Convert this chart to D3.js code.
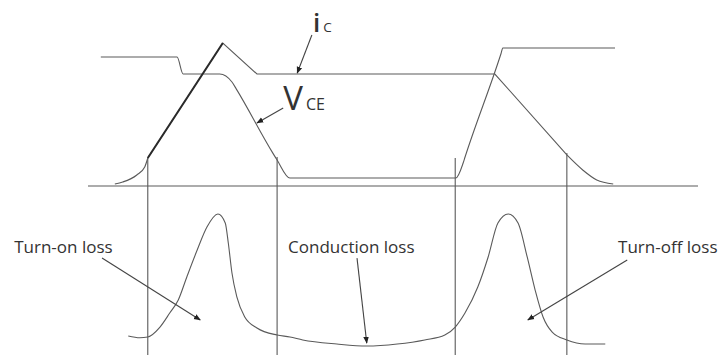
<!DOCTYPE html>
<html>
<head>
<meta charset="utf-8">
<script src="https://cdn.jsdelivr.net/npm/d3@7"></script>
<style>
  body { margin: 0; background: #fff; }
  text { font-family: "Open Sans", sans-serif; fill: #333; }
</style>
</head>
<body>
<div id="chart"></div>
<script>
// time runs 0..100 along the baseline, signals 0..100 in each panel
// [time, value]
var vce = [[2.1, 90.2], [14.6, 90.2], [15.6, 78.3], [21.6, 78.3], [23.6, 72.7],
           [24.3, 67.9], [30.3, 23.0], [31.0, 18.2], [33.1, 5.6], [60.3, 5.6],
           [61.5, 16.1], [61.8, 20.1], [67.7, 92.5], [68.0, 96.5], [86.4, 96.5]];
var icTurnOn = [[4.4, 1.4], [5.7, 2.8], [8.0, 7.7], [9.3, 13.3], [9.8, 19.6]];
var icMain = [[9.8, 19.6], [22.1, 100], [27.7, 78.3], [66.7, 78.3], [78.5, 21.7]];
var icTurnOff = [[78.5, 21.7], [81.1, 11.2], [83.4, 4.2], [86.1, 1.4]];

var lossOn = [[6.6, 10.3], [8.5, 9.0], [9.8, 9.6], [11.8, 16.9], [13.4, 27.2], [14.8, 36.8],
              [16.2, 53.7], [17.9, 73.5], [19.5, 90.4], [21.3, 100], [22.5, 93.4],
              [23.0, 78.7], [23.6, 56.6], [24.4, 39.0], [25.7, 24.3], [27.7, 16.2],
              [31.0, 11.0]];
var lossCond = [[33.1, 9.6], [35.2, 7.4], [40.8, 4.4], [45.7, 2.9], [50.7, 4.4],
                [55.2, 7.4], [58.5, 11.0]];
var lossOff = [[60.2, 16.9], [61.8, 27.2], [63.9, 46.3], [65.6, 68.4], [67.2, 93.4],
               [68.9, 100], [70.5, 93.4], [72.0, 68.4], [73.3, 44.1], [74.6, 24.3],
               [76.1, 13.2], [78.5, 7.4], [81.5, 4.4], [84.8, 4.4]];

// switching instants and where the marker lines start on the top panel
var markerTimes = [9.8, 31.0, 60.2, 78.5];
var markerTops = [19.6, 20.3, 19.6, 23.1];

var lossLabels = ["Turn-on loss", "Conduction loss", "Turn-off loss"];
var lossLabelTimes = [-12.1, 32.8, 86.9];
// arrows: [fromTime, fromValue, toTime, toValue]
var lossArrows = [[2.3, 67.6, 18.4, 22.1], [44.1, 67.6, 45.7, 5.1], [88.4, 66.2, 72.1, 22.1]];
var icArrow = [36.7, 105.6, 34.3, 79.0];
var vceArrow = [32.0, 54.5, 27.7, 44.1];

var width = 720, height = 355;

var svg = d3.select("#chart")
  .append("svg")
    .attr("width", width)
    .attr("height", height);

var x = d3.scaleLinear().domain([0, 100]).range([88, 698]);
var yTop = d3.scaleLinear().domain([0, 100]).range([186, 43]);
var yBot = d3.scaleLinear().domain([0, 100]).range([350, 214]);

svg.append("defs").append("marker")
    .attr("id", "head")
    .attr("viewBox", "0 0 10 10")
    .attr("refX", 9).attr("refY", 5)
    .attr("markerWidth", 7).attr("markerHeight", 7)
    .attr("markerUnits", "userSpaceOnUse")
    .attr("orient", "auto")
  .append("path")
    .attr("d", "M0,1 L10,5 L0,9 Z")
    .attr("fill", "#222");

var lineColor = "#5a5a5a";

var smoothTop = d3.line()
  .x(function(d) { return x(d[0]); })
  .y(function(d) { return yTop(d[1]); })
  .curve(d3.curveMonotoneX);
var straightTop = d3.line()
  .x(function(d) { return x(d[0]); })
  .y(function(d) { return yTop(d[1]); });
var smoothBot = d3.line()
  .x(function(d) { return x(d[0]); })
  .y(function(d) { return yBot(d[1]); })
  .curve(d3.curveMonotoneX);

// baseline of the top panel
svg.append("line")
  .attr("x1", x(0)).attr("x2", x(100))
  .attr("y1", yTop(0)).attr("y2", yTop(0))
  .attr("stroke", lineColor).attr("stroke-width", 1.1);

// marker lines
svg.append("g")
  .selectAll("line")
  .data(markerTimes)
  .enter()
  .append("line")
    .attr("x1", function(d) { return x(d); })
    .attr("x2", function(d) { return x(d); })
    .attr("y1", function(d, i) { return yTop(markerTops[i]); })
    .attr("y2", yBot(-5))
    .attr("stroke", lineColor).attr("stroke-width", 1.1);

// V_CE
svg.append("path")
  .attr("d", smoothTop(vce))
  .attr("fill", "none").attr("stroke", lineColor).attr("stroke-width", 1.1);

// i_C
svg.append("path")
  .attr("d", smoothTop(icTurnOn))
  .attr("fill", "none").attr("stroke", lineColor).attr("stroke-width", 1.1);
svg.append("path")
  .attr("d", straightTop(icMain))
  .attr("fill", "none").attr("stroke", lineColor).attr("stroke-width", 1.1);
svg.append("path")
  .attr("d", straightTop(icMain.slice(0, 2)))
  .attr("fill", "none").attr("stroke", "#2a2a2a").attr("stroke-width", 2);
svg.append("path")
  .attr("d", smoothTop(icTurnOff))
  .attr("fill", "none").attr("stroke", lineColor).attr("stroke-width", 1.1);

// power loss
svg.append("path")
  .attr("d", smoothBot(lossOn.concat(lossCond, lossOff)))
  .attr("fill", "none").attr("stroke", lineColor).attr("stroke-width", 1.1);

// labels
var ic = svg.append("text")
  .attr("x", x(36.9)).attr("y", yTop(107.7));
ic.append("tspan").style("font-size", "26px").style("font-weight", 600).text("i");
ic.append("tspan").attr("dx", 3).style("font-size", "13.5px").text("C");

var vl = svg.append("text")
  .attr("x", x(32.0)).attr("y", yTop(53.1));
vl.append("tspan").style("font-size", "33px").text("V");
vl.append("tspan").attr("dx", 3).style("font-size", "16px").text("CE");

function arrow(a, yScale) {
  svg.append("line")
    .attr("x1", x(a[0])).attr("y1", yScale(a[1]))
    .attr("x2", x(a[2])).attr("y2", yScale(a[3]))
    .attr("stroke", "#444").attr("stroke-width", 1.1)
    .attr("marker-end", "url(#head)");
}
arrow(icArrow, yTop);
arrow(vceArrow, yTop);
lossArrows.forEach(function(a) { arrow(a, yBot); });

svg.append("g")
  .selectAll("text")
  .data(lossLabels)
  .enter()
  .append("text")
    .attr("x", function(d, i) { return x(lossLabelTimes[i]); })
    .attr("y", yBot(71.3))
    .style("font-size", "17px")
    .text(function(d) { return d; });
</script>
</body>
</html>
